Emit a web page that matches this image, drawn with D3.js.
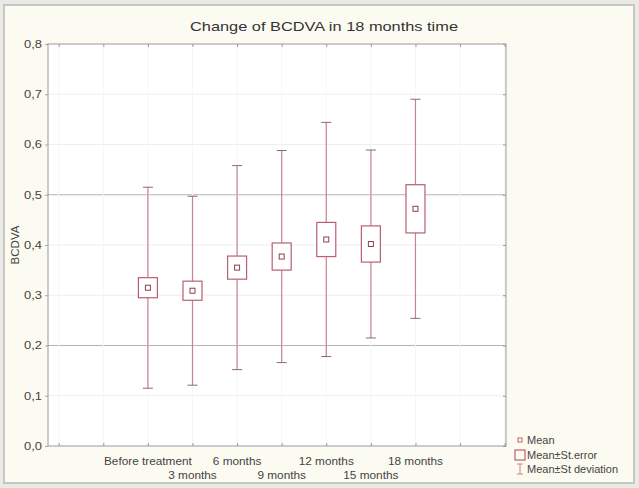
<!DOCTYPE html>
<html><head><meta charset="utf-8">
<script src="https://cdn.jsdelivr.net/npm/d3@7"></script>
<style>
html,body{margin:0;padding:0;background:#fff;}
svg{display:block;font-family:"Liberation Sans",Arial,sans-serif;}
</style></head>
<body>
<script>
const categories = ["Before treatment","3 months","6 months","9 months","12 months","15 months","18 months"];
const means = [0.315, 0.309, 0.355, 0.377, 0.411, 0.402, 0.472];
const stdErrors = [0.020, 0.019, 0.023, 0.027, 0.034, 0.036, 0.048];
const stdDevs = [0.200, 0.188, 0.203, 0.211, 0.233, 0.187, 0.218];
const yTicks = [0, 0.1, 0.2, 0.3, 0.4, 0.5, 0.6, 0.7, 0.8];
const legendLabels = ["Mean", "Mean\u00b1St.error", "Mean\u00b1St deviation"];

const W = 639, H = 488;
const plot = {left: 48, right: 506, top: 44, bottom: 446};
const svg = d3.select("body").append("svg").attr("width", W).attr("height", H);

// outer frame
svg.append("rect").attr("x", 0).attr("y", 0).attr("width", W).attr("height", H).attr("fill", "#e9e9e6");
svg.append("rect").attr("x", 4).attr("y", 5).attr("width", W - 9).attr("height", H - 10)
  .attr("fill", "#fcfbf1").attr("stroke", "#b9b9b5").attr("stroke-width", 1.5);

const x = d3.scaleLinear().domain([-2.24, 8.03]).range([plot.left, plot.right]);
const y = d3.scaleLinear().domain([0, 0.8]).range([plot.bottom, plot.top]);

// plot area
svg.append("rect").attr("x", plot.left).attr("y", plot.top)
  .attr("width", plot.right - plot.left).attr("height", plot.bottom - plot.top)
  .attr("fill", "#ffffff");

// grid lines
svg.append("g").selectAll("line").data(yTicks.filter(d => d > 0 && d < 0.8)).join("line")
  .attr("x1", plot.left).attr("x2", plot.right)
  .attr("y1", d => y(d)).attr("y2", d => y(d))
  .attr("stroke", d => (Math.abs(d - 0.2) < 1e-9 || Math.abs(d - 0.5) < 1e-9) ? "#b4b4b4" : "#eeeeee")
  .attr("stroke-width", 1);

// faint vertical guides
svg.append("g").selectAll("line").data(d3.range(-2, 9)).join("line")
  .attr("x1", d => x(d)).attr("x2", d => x(d))
  .attr("y1", plot.top).attr("y2", plot.bottom)
  .attr("stroke", "#f5f5f5");

// axes
const yAxis = d3.axisLeft(y).tickValues(yTicks).tickSize(3).tickPadding(3)
  .tickFormat(d => d3.format(".1f")(d).replace(".", ","));
const gy = svg.append("g").attr("transform", `translate(${plot.left},0)`).call(yAxis);
gy.select(".domain").remove();
gy.selectAll("line").attr("stroke", "#aaa");
gy.selectAll("text").attr("fill", "#444").attr("font-size", 10.5)
  .attr("textLength", 18).attr("lengthAdjust", "spacingAndGlyphs");

const gyr = svg.append("g").attr("transform", `translate(${plot.right},0)`)
  .call(d3.axisRight(y).tickValues(yTicks).tickSize(-3).tickFormat(""));
gyr.select(".domain").remove();
gyr.selectAll("line").attr("stroke", "#999");

const xTickIdx = d3.range(-2, 9);
const gxb = svg.append("g").attr("transform", `translate(0,${plot.bottom})`)
  .call(d3.axisBottom(x).tickValues(xTickIdx).tickSize(-3).tickFormat(""));
gxb.select(".domain").remove();
gxb.selectAll("line").attr("stroke", "#999");
const gxt = svg.append("g").attr("transform", `translate(0,${plot.top})`)
  .call(d3.axisTop(x).tickValues(xTickIdx).tickSize(-3).tickFormat(""));
gxt.select(".domain").remove();
gxt.selectAll("line").attr("stroke", "#999");

// plot border
svg.append("rect").attr("x", plot.left).attr("y", plot.top)
  .attr("width", plot.right - plot.left).attr("height", plot.bottom - plot.top)
  .attr("fill", "none").attr("stroke", "#9a9a9a").attr("stroke-width", 1);

// category labels, staggered in two rows
svg.append("g").selectAll("text").data(categories).join("text")
  .attr("x", (d, i) => x(i))
  .attr("y", (d, i) => i % 2 === 0 ? plot.bottom + 19 : plot.bottom + 33)
  .attr("text-anchor", "middle").attr("font-size", 11.8).attr("fill", "#444")
  .text(d => d);

// title
svg.append("text").attr("x", 324).attr("y", 31).attr("text-anchor", "middle")
  .attr("font-size", 13.5).attr("fill", "#333")
  .attr("textLength", 268).attr("lengthAdjust", "spacingAndGlyphs")
  .text("Change of BCDVA in 18 months time");

// y label
svg.append("text").attr("transform", `translate(19,${(plot.top + plot.bottom) / 2}) rotate(-90)`)
  .attr("text-anchor", "middle").attr("font-size", 11.5).attr("fill", "#444").text("BCDVA");

const whiskerColor = "#c98290";
const boxColor = "#b8606f";
const capW = 10, boxW = 19, meanS = 5;

const g = svg.append("g");
categories.forEach((c, i) => {
  const cx = x(i);
  const lo = means[i] - stdDevs[i], hi = means[i] + stdDevs[i];
  g.append("line").attr("x1", cx).attr("x2", cx).attr("y1", y(hi)).attr("y2", y(lo))
    .attr("stroke", whiskerColor).attr("stroke-width", 1.2);
  [hi, lo].forEach(v => g.append("line").attr("x1", cx - capW / 2).attr("x2", cx + capW / 2)
    .attr("y1", y(v)).attr("y2", y(v)).attr("stroke", "#8a6a70").attr("stroke-width", 1));
  const bt = y(means[i] + stdErrors[i]), bb = y(means[i] - stdErrors[i]);
  g.append("rect").attr("x", cx - boxW / 2).attr("y", bt).attr("width", boxW).attr("height", bb - bt)
    .attr("fill", "#fff").attr("stroke", boxColor).attr("stroke-width", 1.2);
  g.append("rect").attr("x", cx - meanS / 2).attr("y", y(means[i]) - meanS / 2)
    .attr("width", meanS).attr("height", meanS)
    .attr("fill", "none").attr("stroke", "#8c4050").attr("stroke-width", 1);
});

// legend
const lg = svg.append("g");
const lx = 520, ly = [440, 455, 469];
lg.append("rect").attr("x", lx - 2).attr("y", ly[0] - 2).attr("width", 4).attr("height", 4)
  .attr("fill", "none").attr("stroke", boxColor);
lg.append("rect").attr("x", lx - 5).attr("y", ly[1] - 5).attr("width", 10).attr("height", 10)
  .attr("fill", "none").attr("stroke", boxColor).attr("stroke-width", 1.2);
lg.append("line").attr("x1", lx).attr("x2", lx).attr("y1", ly[2] - 5).attr("y2", ly[2] + 5).attr("stroke", whiskerColor);
lg.append("line").attr("x1", lx - 3).attr("x2", lx + 3).attr("y1", ly[2] - 5).attr("y2", ly[2] - 5).attr("stroke", whiskerColor);
lg.append("line").attr("x1", lx - 3).attr("x2", lx + 3).attr("y1", ly[2] + 5).attr("y2", ly[2] + 5).attr("stroke", whiskerColor);
lg.selectAll("text").data(legendLabels).join("text")
  .attr("x", lx + 7).attr("y", (d, i) => ly[i] + 4)
  .attr("font-size", 11).attr("fill", "#444").text(d => d);
</script>
</body></html>
